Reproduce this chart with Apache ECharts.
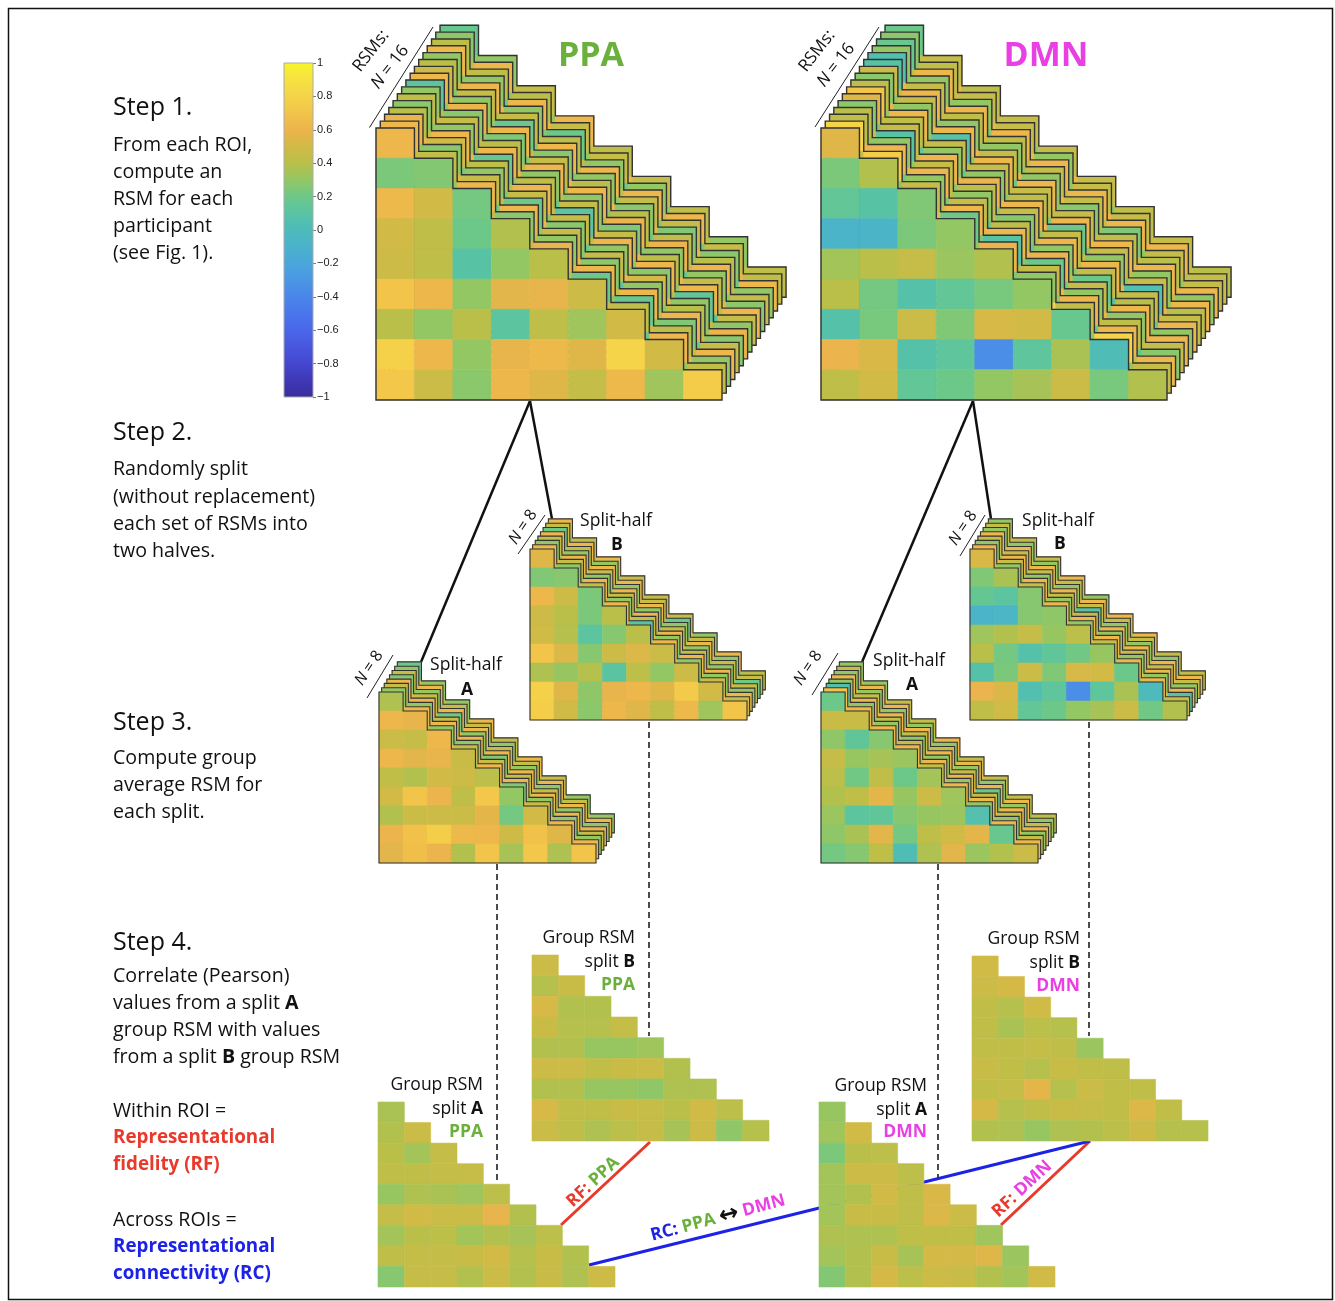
<!DOCTYPE html>
<html>
<head>
<meta charset="utf-8">
<script src="https://cdn.jsdelivr.net/npm/echarts@6/dist/echarts.min.js"></script>
<style>
html, body { margin: 0; background: #fff; }
#chart { width: 1335px; height: 1301px; }
</style>
</head>
<body>
<div id="chart"></div>
<script>
'use strict';
// parula-like colour map, evenly spaced from -1 to 1
var parula = ['#3A2D9C', '#3F38B6', '#4446CF', '#4856DE', '#4A66EA', '#4A76EC', '#4A86EA',
    '#4A96E4', '#4AA6DC', '#4AB2CC', '#4DBBBB', '#58C3A4', '#6CC888', '#93C764', '#BABF49',
    '#D2BA46', '#ECB44C', '#F2C449', '#F5D449', '#F6E240', '#F8F52C'];
var cbMin = -1, cbMax = 1, cbStep = 0.2;
var cellCats = ['1', '2', '3', '4', '5', '6', '7', '8', '9'];

// front RSMs (lower triangle, row by row)
var ppaFront = [
    [0.62],
    [0.24, 0.26],
    [0.63, 0.50, 0.22],
    [0.50, 0.42, 0.20, 0.38],
    [0.48, 0.42, 0.10, 0.30, 0.40],
    [0.70, 0.62, 0.30, 0.56, 0.58, 0.48],
    [0.40, 0.30, 0.40, 0.12, 0.42, 0.33, 0.50],
    [0.78, 0.62, 0.30, 0.58, 0.63, 0.55, 0.80, 0.50],
    [0.72, 0.47, 0.28, 0.62, 0.55, 0.44, 0.63, 0.33, 0.75]
];
var dmnFront = [
    [0.55],
    [0.24, 0.38],
    [0.15, 0.10, 0.25],
    [-0.08, -0.07, 0.24, 0.30],
    [0.34, 0.40, 0.45, 0.32, 0.38],
    [0.40, 0.22, 0.08, 0.15, 0.23, 0.30],
    [0.08, 0.23, 0.47, 0.25, 0.52, 0.50, 0.18],
    [0.60, 0.53, 0.08, 0.13, -0.35, 0.13, 0.36, 0.02],
    [0.42, 0.50, 0.15, 0.20, 0.30, 0.35, 0.47, 0.23, 0.38]
];
var ppaSplitAFront = [
    [0.37],
    [0.62, 0.58],
    [0.47, 0.45, 0.62],
    [0.62, 0.56, 0.58, 0.46],
    [0.43, 0.38, 0.50, 0.48, 0.41],
    [0.50, 0.70, 0.60, 0.42, 0.72, 0.30],
    [0.38, 0.47, 0.48, 0.47, 0.57, 0.22, 0.50],
    [0.60, 0.68, 0.76, 0.63, 0.62, 0.48, 0.69, 0.55],
    [0.56, 0.67, 0.60, 0.38, 0.70, 0.35, 0.72, 0.37, 0.70]
];
var ppaSplitBFront = [
    [0.55],
    [0.25, 0.27],
    [0.62, 0.48, 0.24],
    [0.48, 0.40, 0.24, 0.40],
    [0.49, 0.39, 0.12, 0.27, 0.40],
    [0.70, 0.54, 0.27, 0.48, 0.54, 0.47],
    [0.37, 0.31, 0.39, 0.11, 0.41, 0.30, 0.48],
    [0.78, 0.55, 0.29, 0.58, 0.62, 0.55, 0.74, 0.50],
    [0.76, 0.49, 0.28, 0.62, 0.55, 0.42, 0.63, 0.33, 0.70]
];
var dmnSplitAFront = [
    [0.20],
    [0.46, 0.46],
    [0.29, 0.14, 0.27],
    [0.45, 0.31, 0.35, 0.32],
    [0.41, 0.21, 0.42, 0.20, 0.34],
    [0.38, 0.42, 0.57, 0.31, 0.48, 0.33],
    [0.32, 0.12, 0.14, 0.27, 0.31, 0.32, 0.06],
    [0.29, 0.36, 0.56, 0.22, 0.42, 0.49, 0.57, 0.18],
    [0.22, 0.27, 0.42, 0.03, 0.37, 0.56, 0.32, 0.38, 0.47]
];
var dmnSplitBFront = [
    [0.53],
    [0.25, 0.36],
    [0.16, 0.12, 0.27],
    [-0.08, -0.06, 0.27, 0.29],
    [0.33, 0.38, 0.45, 0.31, 0.41],
    [0.40, 0.22, 0.07, 0.14, 0.21, 0.31],
    [0.08, 0.24, 0.47, 0.25, 0.52, 0.50, 0.19],
    [0.60, 0.53, 0.05, 0.13, -0.35, 0.13, 0.36, 0.00],
    [0.42, 0.49, 0.15, 0.20, 0.30, 0.35, 0.47, 0.21, 0.38]
];

// back RSMs of each stack: only the edge cells show, in the order
// d0, s1, d1, s2, d2 ... s8, d8 (d = diagonal, s = cell left of it)
var ppaBack = [
    [0.62, 0.45, 0.42, 0.30, 0.62, 0.45, 0.28, 0.50, 0.60, 0.35, 0.20, 0.48, 0.42, 0.15, 0.62, 0.30, 0.42],
    [0.60, 0.30, 0.28, 0.50, 0.45, 0.20, 0.62, 0.40, 0.30, 0.55, 0.62, 0.30, 0.18, 0.50, 0.42, 0.62, 0.30],
    [0.40, 0.62, 0.50, 0.25, 0.30, 0.45, 0.20, 0.30, 0.45, 0.60, 0.28, 0.45, 0.62, 0.30, 0.25, 0.45, 0.62],
    [0.28, 0.45, 0.62, 0.40, 0.42, 0.25, 0.45, 0.62, 0.28, 0.30, 0.45, 0.12, 0.30, 0.45, 0.62, 0.20, 0.45],
    [0.42, 0.30, 0.30, 0.62, 0.18, 0.40, 0.62, 0.30, 0.45, 0.20, 0.30, 0.62, 0.50, 0.28, 0.40, 0.50, 0.28],
    [0.30, 0.50, 0.45, 0.28, 0.62, 0.30, 0.42, 0.45, 0.12, 0.42, 0.62, 0.30, 0.28, 0.62, 0.30, 0.30, 0.60],
    [0.12, 0.40, 0.28, 0.45, 0.40, 0.62, 0.30, 0.20, 0.45, 0.60, 0.45, 0.25, 0.62, 0.40, 0.15, 0.42, 0.30],
    [0.62, 0.30, 0.60, 0.30, 0.25, 0.40, 0.62, 0.45, 0.30, 0.28, 0.25, 0.62, 0.40, 0.30, 0.62, 0.10, 0.45],
    [0.48, 0.62, 0.30, 0.50, 0.62, 0.25, 0.45, 0.30, 0.62, 0.45, 0.60, 0.30, 0.30, 0.62, 0.45, 0.40, 0.62],
    [0.40, 0.25, 0.45, 0.30, 0.20, 0.45, 0.28, 0.62, 0.40, 0.30, 0.40, 0.45, 0.60, 0.20, 0.30, 0.60, 0.28],
    [0.30, 0.45, 0.62, 0.40, 0.45, 0.30, 0.62, 0.25, 0.30, 0.62, 0.28, 0.20, 0.42, 0.45, 0.62, 0.30, 0.45],
    [0.63, 0.30, 0.30, 0.62, 0.30, 0.45, 0.40, 0.45, 0.62, 0.30, 0.45, 0.60, 0.25, 0.30, 0.40, 0.45, 0.30],
    [0.40, 0.50, 0.42, 0.20, 0.62, 0.28, 0.20, 0.40, 0.30, 0.45, 0.62, 0.30, 0.45, 0.62, 0.28, 0.20, 0.62],
    [0.28, 0.45, 0.62, 0.30, 0.40, 0.60, 0.45, 0.30, 0.45, 0.20, 0.30, 0.45, 0.62, 0.25, 0.45, 0.60, 0.42],
    [0.18, 0.30, 0.30, 0.45, 0.45, 0.30, 0.62, 0.45, 0.42, 0.62, 0.45, 0.30, 0.42, 0.45, 0.30, 0.40, 0.42]
];
var dmnBack = [
    [0.80, 0.45, 0.75, 0.30, 0.45, 0.62, 0.20, 0.30, 0.60, 0.25, 0.30, 0.75, 0.45, 0.30, 0.80, 0.28, 0.45],
    [0.42, 0.60, 0.62, 0.20, 0.30, 0.45, 0.62, 0.25, 0.10, 0.40, 0.45, 0.30, 0.62, 0.20, 0.62, 0.45, 0.62],
    [0.40, 0.30, 0.30, 0.62, 0.62, 0.25, 0.45, 0.60, 0.62, 0.30, 0.20, 0.62, 0.30, 0.45, 0.42, 0.15, 0.28],
    [0.28, 0.45, 0.10, 0.30, 0.45, 0.42, 0.30, 0.20, 0.42, 0.62, 0.60, 0.25, 0.45, 0.60, 0.30, 0.45, 0.45],
    [0.55, 0.25, 0.45, 0.45, 0.62, 0.30, 0.42, 0.45, 0.28, 0.20, 0.30, 0.45, 0.20, 0.30, 0.62, 0.60, 0.62],
    [0.70, 0.45, 0.42, 0.15, 0.30, 0.62, 0.60, 0.30, 0.45, 0.45, 0.62, 0.30, 0.45, 0.10, 0.40, 0.30, 0.30],
    [0.42, 0.30, 0.62, 0.45, 0.45, 0.20, 0.30, 0.62, 0.62, 0.30, 0.45, 0.40, 0.62, 0.45, 0.45, 0.20, 0.62],
    [0.28, 0.60, 0.30, 0.30, 0.10, 0.45, 0.45, 0.30, 0.42, 0.62, 0.20, 0.45, 0.30, 0.62, 0.05, 0.45, 0.45],
    [0.48, 0.30, 0.45, 0.62, 0.62, 0.30, 0.62, 0.45, 0.45, 0.25, 0.62, 0.30, 0.45, 0.30, 0.45, 0.62, 0.40],
    [0.10, 0.45, 0.62, 0.30, 0.30, 0.62, 0.45, 0.20, 0.62, 0.45, 0.45, 0.62, 0.62, 0.45, 0.30, 0.30, 0.62],
    [0.05, 0.62, 0.45, 0.45, 0.42, 0.30, 0.30, 0.62, 0.30, 0.30, 0.28, 0.45, 0.42, 0.62, 0.62, 0.45, 0.30],
    [0.30, 0.30, 0.30, 0.62, 0.62, 0.45, 0.42, 0.30, 0.45, 0.62, 0.45, 0.30, 0.25, 0.45, 0.40, 0.62, 0.62],
    [0.18, 0.45, 0.62, 0.30, 0.30, 0.25, 0.62, 0.45, 0.62, 0.45, 0.62, 0.45, 0.62, 0.30, 0.45, 0.30, 0.45],
    [0.28, 0.30, 0.42, 0.45, 0.45, 0.62, 0.45, 0.62, 0.30, 0.30, 0.45, 0.62, 0.45, 0.62, 0.62, 0.45, 0.45],
    [0.20, 0.45, 0.45, 0.62, 0.42, 0.45, 0.45, 0.30, 0.45, 0.62, 0.45, 0.30, 0.42, 0.45, 0.45, 0.45, 0.40]
];
var ppaSplitABack = [
    [0.30, 0.60, 0.62, 0.45, 0.30, 0.62, 0.45, 0.30, 0.62, 0.45, 0.25, 0.62, 0.45, 0.30, 0.62, 0.45, 0.62],
    [0.45, 0.30, 0.30, 0.62, 0.62, 0.20, 0.30, 0.62, 0.45, 0.62, 0.62, 0.45, 0.30, 0.62, 0.30, 0.45, 0.30],
    [0.62, 0.45, 0.62, 0.30, 0.45, 0.45, 0.62, 0.45, 0.25, 0.45, 0.45, 0.30, 0.62, 0.30, 0.62, 0.20, 0.45],
    [0.25, 0.62, 0.45, 0.45, 0.20, 0.62, 0.30, 0.30, 0.62, 0.30, 0.62, 0.62, 0.45, 0.45, 0.30, 0.62, 0.60],
    [0.45, 0.30, 0.30, 0.62, 0.62, 0.30, 0.62, 0.62, 0.45, 0.45, 0.30, 0.45, 0.30, 0.62, 0.62, 0.30, 0.30],
    [0.30, 0.45, 0.62, 0.30, 0.45, 0.45, 0.45, 0.30, 0.30, 0.62, 0.45, 0.30, 0.62, 0.30, 0.45, 0.45, 0.62],
    [0.20, 0.62, 0.30, 0.45, 0.30, 0.30, 0.62, 0.45, 0.45, 0.30, 0.62, 0.45, 0.45, 0.62, 0.30, 0.62, 0.30]
];
var ppaSplitBBack = [
    [0.62, 0.45, 0.30, 0.62, 0.45, 0.30, 0.62, 0.45, 0.10, 0.30, 0.62, 0.45, 0.30, 0.20, 0.45, 0.62, 0.45],
    [0.30, 0.62, 0.45, 0.30, 0.62, 0.45, 0.30, 0.62, 0.45, 0.62, 0.30, 0.20, 0.62, 0.45, 0.30, 0.45, 0.62],
    [0.45, 0.30, 0.62, 0.45, 0.30, 0.62, 0.45, 0.30, 0.62, 0.45, 0.62, 0.30, 0.45, 0.62, 0.62, 0.30, 0.30],
    [0.62, 0.45, 0.30, 0.62, 0.45, 0.20, 0.62, 0.45, 0.30, 0.10, 0.45, 0.62, 0.30, 0.45, 0.30, 0.62, 0.45],
    [0.20, 0.30, 0.45, 0.62, 0.62, 0.30, 0.30, 0.45, 0.62, 0.30, 0.30, 0.45, 0.62, 0.30, 0.45, 0.30, 0.20],
    [0.45, 0.62, 0.62, 0.30, 0.30, 0.45, 0.62, 0.62, 0.45, 0.45, 0.20, 0.30, 0.45, 0.62, 0.30, 0.45, 0.45],
    [0.62, 0.30, 0.45, 0.45, 0.62, 0.30, 0.45, 0.30, 0.45, 0.62, 0.45, 0.62, 0.30, 0.45, 0.62, 0.30, 0.40]
];
var dmnSplitABack = [
    [0.70, 0.62, 0.62, 0.45, 0.62, 0.30, 0.62, 0.62, 0.45, 0.30, 0.62, 0.45, 0.30, 0.20, 0.62, 0.62, 0.62],
    [0.05, 0.30, 0.30, 0.62, 0.30, 0.45, 0.45, 0.30, 0.62, 0.62, 0.30, 0.62, 0.62, 0.45, 0.30, 0.20, 0.45],
    [0.30, 0.45, 0.62, 0.30, 0.45, 0.62, 0.30, 0.45, 0.30, 0.45, 0.62, 0.30, 0.45, 0.62, 0.45, 0.62, 0.30],
    [0.62, 0.30, 0.45, 0.62, 0.62, 0.30, 0.45, 0.62, 0.62, 0.30, 0.45, 0.62, 0.20, 0.30, 0.62, 0.45, 0.62],
    [0.30, 0.62, 0.30, 0.45, 0.30, 0.62, 0.62, 0.30, 0.45, 0.62, 0.30, 0.45, 0.62, 0.62, 0.30, 0.30, 0.45],
    [0.45, 0.30, 0.62, 0.30, 0.62, 0.45, 0.30, 0.45, 0.30, 0.45, 0.62, 0.30, 0.30, 0.45, 0.62, 0.62, 0.30],
    [0.30, 0.45, 0.30, 0.62, 0.45, 0.30, 0.45, 0.30, 0.62, 0.30, 0.45, 0.62, 0.45, 0.30, 0.45, 0.30, 0.42]
];
var dmnSplitBBack = [
    [0.62, 0.45, 0.30, 0.62, 0.45, 0.30, 0.62, 0.45, 0.30, 0.62, 0.45, 0.30, 0.62, 0.30, 0.62, 0.30, 0.45],
    [0.30, 0.62, 0.45, 0.30, 0.62, 0.45, 0.30, 0.30, 0.62, 0.45, 0.62, 0.45, 0.30, 0.62, 0.30, 0.62, 0.10],
    [0.45, 0.30, 0.62, 0.45, 0.30, 0.62, 0.45, 0.62, 0.45, 0.62, 0.30, 0.62, 0.45, 0.45, 0.62, 0.45, 0.62],
    [0.62, 0.62, 0.45, 0.30, 0.45, 0.30, 0.62, 0.30, 0.10, 0.30, 0.62, 0.30, 0.62, 0.62, 0.45, 0.30, 0.30],
    [0.30, 0.45, 0.62, 0.62, 0.62, 0.45, 0.30, 0.45, 0.45, 0.45, 0.30, 0.45, 0.30, 0.30, 0.62, 0.62, 0.45],
    [0.45, 0.30, 0.30, 0.45, 0.30, 0.62, 0.45, 0.62, 0.62, 0.30, 0.45, 0.62, 0.45, 0.62, 0.30, 0.45, 0.62],
    [0.30, 0.62, 0.45, 0.30, 0.45, 0.45, 0.62, 0.30, 0.30, 0.62, 0.62, 0.30, 0.62, 0.45, 0.45, 0.30, 0.42]
];

// group average RSMs
var groupPpaA = [
    [0.36],
    [0.38, 0.47],
    [0.40, 0.34, 0.44],
    [0.42, 0.42, 0.44, 0.45],
    [0.31, 0.37, 0.36, 0.33, 0.41],
    [0.44, 0.50, 0.47, 0.47, 0.58, 0.38],
    [0.34, 0.40, 0.41, 0.34, 0.38, 0.35, 0.41],
    [0.42, 0.44, 0.44, 0.46, 0.50, 0.39, 0.46, 0.38],
    [0.27, 0.45, 0.45, 0.38, 0.47, 0.38, 0.46, 0.37, 0.48]
];
var groupPpaB = [
    [0.47],
    [0.39, 0.46],
    [0.52, 0.38, 0.38],
    [0.46, 0.39, 0.39, 0.44],
    [0.38, 0.38, 0.31, 0.31, 0.33],
    [0.48, 0.48, 0.43, 0.46, 0.47, 0.38],
    [0.38, 0.38, 0.31, 0.31, 0.29, 0.37, 0.37],
    [0.52, 0.43, 0.43, 0.46, 0.45, 0.40, 0.49, 0.41],
    [0.47, 0.42, 0.37, 0.41, 0.45, 0.35, 0.48, 0.29, 0.39]
];
var groupDmnA = [
    [0.31],
    [0.33, 0.50],
    [0.24, 0.40, 0.41],
    [0.34, 0.48, 0.48, 0.41],
    [0.34, 0.38, 0.50, 0.42, 0.53],
    [0.34, 0.46, 0.46, 0.42, 0.54, 0.47],
    [0.37, 0.37, 0.37, 0.42, 0.43, 0.43, 0.33],
    [0.34, 0.38, 0.46, 0.35, 0.51, 0.51, 0.55, 0.32],
    [0.26, 0.38, 0.51, 0.41, 0.48, 0.46, 0.38, 0.34, 0.49]
];
var groupDmnB = [
    [0.49],
    [0.47, 0.51],
    [0.43, 0.39, 0.49],
    [0.42, 0.36, 0.41, 0.39],
    [0.43, 0.43, 0.44, 0.42, 0.32],
    [0.46, 0.43, 0.39, 0.46, 0.43, 0.42],
    [0.43, 0.44, 0.57, 0.39, 0.47, 0.43, 0.42],
    [0.51, 0.39, 0.42, 0.46, 0.45, 0.43, 0.54, 0.43],
    [0.38, 0.37, 0.31, 0.37, 0.38, 0.41, 0.48, 0.39, 0.39]
];

var FONT = '"Open Sans", sans-serif';
var GREEN = '#6BAF3C', MAGENTA = '#E940E3', RED = '#E8392A', BLUE = '#1C22E6';

// box = front matrix [left, top, width, height], dx/dy = shift of each layer behind
var stacks = [
    { front: ppaFront, back: ppaBack, box: [376, 128, 346, 272], dx: 4.27, dy: 6.85, line: 1.4 },
    { front: dmnFront, back: dmnBack, box: [821, 128, 346, 272], dx: 4.27, dy: 6.85, line: 1.4 },
    { front: ppaSplitAFront, back: ppaSplitABack, box: [379, 692, 217, 171], dx: 2.62, dy: 4.3, line: 1.1 },
    { front: ppaSplitBFront, back: ppaSplitBBack, box: [530, 549, 217, 171], dx: 2.62, dy: 4.3, line: 1.1 },
    { front: dmnSplitAFront, back: dmnSplitABack, box: [821, 692, 217, 171], dx: 2.62, dy: 4.3, line: 1.1 },
    { front: dmnSplitBFront, back: dmnSplitBBack, box: [970, 549, 217, 171], dx: 2.62, dy: 4.3, line: 1.1 },
    { front: groupPpaA, back: [], box: [378, 1102, 237, 185], dx: 0, dy: 0, line: 0 },
    { front: groupPpaB, back: [], box: [532, 955, 237, 186], dx: 0, dy: 0, line: 0 },
    { front: groupDmnA, back: [], box: [819, 1102, 236, 185], dx: 0, dy: 0, line: 0 },
    { front: groupDmnB, back: [], box: [972, 956, 236, 185], dx: 0, dy: 0, line: 0 }
];

var chart = echarts.init(document.getElementById('chart'));

var grids = [], xAxes = [], yAxes = [], series = [], cellSeries = [];

function cellRender(st, nLayers) {
    return function (params, api) {
        var layer = api.value(3);
        var p = api.coord([api.value(0), api.value(1)]);
        var s = api.size([1, 1]);
        var color = api.visual('color');
        return {
            type: 'rect',
            shape: {
                x: p[0] - s[0] / 2 + layer * st.dx,
                y: p[1] - s[1] / 2 - layer * st.dy,
                width: s[0],
                height: s[1]
            },
            style: { fill: color, stroke: color, lineWidth: 0.6 },
            z2: (nLayers - layer) * 2
        };
    };
}

function outlineRender(st, nLayers) {
    return function (params, api) {
        var layer = api.value(2);
        var n = st.front.length;
        var p = api.coord([0, 0]);
        var s = api.size([1, 1]);
        var x0 = p[0] - s[0] / 2 + layer * st.dx;
        var y0 = p[1] - s[1] / 2 - layer * st.dy;
        var pts = [[x0, y0]];
        for (var i = 0; i < n; i++) {
            pts.push([x0 + (i + 1) * s[0], y0 + i * s[1]]);
            pts.push([x0 + (i + 1) * s[0], y0 + (i + 1) * s[1]]);
        }
        pts.push([x0, y0 + n * s[1]]);
        return {
            type: 'polygon',
            shape: { points: pts },
            style: { fill: null, stroke: '#333', lineWidth: st.line, lineJoin: 'miter' },
            z2: (nLayers - layer) * 2 + 1
        };
    };
}

stacks.forEach(function (st, i) {
    grids.push({ left: st.box[0], top: st.box[1], width: st.box[2], height: st.box[3] });
    xAxes.push({ type: 'category', gridIndex: i, data: cellCats, show: false });
    yAxes.push({ type: 'category', gridIndex: i, data: cellCats, inverse: true, show: false });
    var nLayers = st.back.length + 1;
    var cells = [];
    st.front.forEach(function (row, r) {
        row.forEach(function (v, c) {
            cells.push([c, r, v, 0]);
        });
    });
    st.back.forEach(function (edge, k) {
        edge.forEach(function (v, j) {
            var r = Math.floor((j + 1) / 2);
            cells.push([r - (j % 2), r, v, k + 1]);
        });
    });
    cellSeries.push(series.length);
    series.push({
        type: 'custom',
        xAxisIndex: i,
        yAxisIndex: i,
        silent: true,
        data: cells,
        renderItem: cellRender(st, nLayers)
    });
    if (st.line) {
        var outlines = [];
        for (var k = 0; k < nLayers; k++) {
            outlines.push([0, 0, k]);
        }
        series.push({
            type: 'custom',
            xAxisIndex: i,
            yAxisIndex: i,
            silent: true,
            data: outlines,
            renderItem: outlineRender(st, nLayers)
        });
    }
});

// colour bar
var cbIndex = grids.length;
grids.push({ left: 284, top: 63, width: 29, height: 334 });
xAxes.push({ type: 'category', gridIndex: cbIndex, data: [''], show: false });
yAxes.push({
    type: 'value',
    gridIndex: cbIndex,
    position: 'right',
    min: cbMin,
    max: cbMax,
    interval: cbStep,
    axisLine: { show: false },
    splitLine: { show: false },
    axisTick: { show: true, length: 3, lineStyle: { color: '#777', width: 1 } },
    axisLabel: {
        margin: 4,
        fontSize: 11,
        fontFamily: '"Liberation Sans", Arial, sans-serif',
        color: '#222',
        formatter: function (v) {
            var a = Math.abs(Math.round(v * 10) / 10);
            return (v < -0.001 ? '\u2212' : '') + a;
        }
    }
});
series.push({
    type: 'custom',
    xAxisIndex: cbIndex,
    yAxisIndex: cbIndex,
    silent: true,
    data: [[0, cbMax]],
    renderItem: function (params, api) {
        var top = api.coord([0, cbMax]);
        var bottom = api.coord([0, cbMin]);
        var w = api.size([1, 0])[0];
        var stops = parula.map(function (c, j) {
            return { offset: j / (parula.length - 1), color: c };
        });
        return {
            type: 'rect',
            shape: { x: top[0] - w / 2, y: top[1], width: w, height: bottom[1] - top[1] },
            style: {
                fill: new echarts.graphic.LinearGradient(0, 1, 0, 0, stops),
                stroke: '#aaa',
                lineWidth: 1
            }
        };
    }
});

// ---- text and connector helpers ----
function txt(x, y, text, size, opt) {
    opt = opt || {};
    return {
        type: 'text',
        x: x,
        y: y,
        rotation: (opt.rot || 0) * Math.PI / 180,
        silent: true,
        style: {
            text: text,
            fill: opt.color || '#111',
            fontSize: size,
            fontFamily: opt.family || FONT,
            fontWeight: opt.bold ? 'bold' : 'normal',
            fontStyle: opt.italic ? 'italic' : 'normal',
            align: opt.align || 'left',
            verticalAlign: 'middle',
            rich: opt.rich
        }
    };
}
function seg(x1, y1, x2, y2, color, width, dash) {
    return {
        type: 'line',
        silent: true,
        shape: { x1: x1, y1: y1, x2: x2, y2: y2 },
        style: { stroke: color, lineWidth: width, lineDash: dash || null }
    };
}

var LX = 113, BODY = 19.6, BOLD = 18.8, HEAD = 25;
var boldRich = { b: { fontWeight: 'bold', fontSize: BODY, fontFamily: FONT, fill: '#111' } };
var nRich = { i: { fontStyle: 'italic', fontSize: 17, fontFamily: FONT, fill: '#111' } };
var nRichS = { i: { fontStyle: 'italic', fontSize: 16, fontFamily: FONT, fill: '#111' } };
function colRich(size) {
    return {
        r: { fill: RED, fontWeight: 'bold', fontSize: size, fontFamily: FONT },
        u: { fill: BLUE, fontWeight: 'bold', fontSize: size, fontFamily: FONT },
        g: { fill: GREEN, fontWeight: 'bold', fontSize: size, fontFamily: FONT },
        m: { fill: MAGENTA, fontWeight: 'bold', fontSize: size, fontFamily: FONT },
        k: { fill: '#111', fontWeight: 'bold', fontSize: size + 6, fontFamily: '"DejaVu Sans", sans-serif' },
        b: { fill: '#111', fontWeight: 'bold', fontSize: 17.5, fontFamily: FONT }
    };
}

var elements = [
    { type: 'rect', silent: true, shape: { x: 8.5, y: 8.5, width: 1324, height: 1291 },
      style: { fill: null, stroke: '#111', lineWidth: 1.5 } },

    txt(LX, 108, 'Step 1.', HEAD),
    txt(LX, 145, 'From each ROI,', BODY),
    txt(LX, 172, 'compute an', BODY),
    txt(LX, 199, 'RSM for each', BODY),
    txt(LX, 226, 'participant', BODY),
    txt(LX, 253, '(see Fig. 1).', BODY),

    txt(LX, 433, 'Step 2.', HEAD),
    txt(LX, 469, 'Randomly split', BODY),
    txt(LX, 497, '(without replacement)', BODY),
    txt(LX, 524, 'each set of RSMs into', BODY),
    txt(LX, 551, 'two halves.', BODY),

    txt(LX, 723, 'Step 3.', HEAD),
    txt(LX, 758, 'Compute group', BODY),
    txt(LX, 785, 'average RSM for', BODY),
    txt(LX, 812, 'each split.', BODY),

    txt(LX, 943, 'Step 4.', HEAD),
    txt(LX, 976, 'Correlate (Pearson)', BODY),
    txt(LX, 1003, 'values from a split {b|A}', BODY, { rich: boldRich }),
    txt(LX, 1030, 'group RSM with values', BODY),
    txt(LX, 1057, 'from a split {b|B} group RSM', BODY, { rich: boldRich }),
    txt(LX, 1111, 'Within ROI =', BODY),
    txt(LX, 1138, 'Representational', BOLD, { bold: true, color: RED }),
    txt(LX, 1165, 'fidelity (RF)', BOLD, { bold: true, color: RED }),
    txt(LX, 1220, 'Across ROIs =', BODY),
    txt(LX, 1247, 'Representational', BOLD, { bold: true, color: BLUE }),
    txt(LX, 1274, 'connectivity (RC)', BOLD, { bold: true, color: BLUE }),

    txt(591, 56, 'PPA', 34, { bold: true, color: GREEN, align: 'center' }),
    txt(1046, 56, 'DMN', 34, { bold: true, color: MAGENTA, align: 'center' }),

    // stack size labels
    seg(369.5, 127.5, 433, 27, '#222', 1),
    seg(815, 127, 879, 27, '#222', 1),
    seg(367, 698, 393, 655, '#222', 1),
    seg(518, 554, 545, 515, '#222', 1),
    seg(812, 695, 838, 653, '#222', 1),
    seg(960, 556, 985, 515, '#222', 1),
    txt(371, 51, 'RSMs:', 17, { rot: 52, align: 'center' }),
    txt(390, 67, '{i|N} = 16', 17, { rot: 52, align: 'center', rich: nRich }),
    txt(817, 51, 'RSMs:', 17, { rot: 52, align: 'center' }),
    txt(836, 65, '{i|N} = 16', 17, { rot: 52, align: 'center', rich: nRich }),
    txt(369, 668, '{i|N} = 8', 16, { rot: 56, align: 'center', rich: nRichS }),
    txt(523, 527, '{i|N} = 8', 16, { rot: 56, align: 'center', rich: nRichS }),
    txt(808, 668, '{i|N} = 8', 16, { rot: 56, align: 'center', rich: nRichS }),
    txt(963, 528, '{i|N} = 8', 16, { rot: 56, align: 'center', rich: nRichS }),

    txt(466, 665, 'Split-half', 17.5, { align: 'center' }),
    txt(467, 690, 'A', 17.5, { align: 'center', bold: true }),
    txt(616, 521, 'Split-half', 17.5, { align: 'center' }),
    txt(617, 545, 'B', 17.5, { align: 'center', bold: true }),
    txt(909, 661, 'Split-half', 17.5, { align: 'center' }),
    txt(912, 685, 'A', 17.5, { align: 'center', bold: true }),
    txt(1058, 521, 'Split-half', 17.5, { align: 'center' }),
    txt(1060, 544, 'B', 17.5, { align: 'center', bold: true }),

    txt(483, 1085, 'Group RSM', 17.5, { align: 'right' }),
    txt(483, 1109, 'split {b|A}', 17.5, { align: 'right', rich: colRich(17.5) }),
    txt(483, 1132, 'PPA', 17.5, { align: 'right', bold: true, color: GREEN }),
    txt(635, 938, 'Group RSM', 17.5, { align: 'right' }),
    txt(635, 962, 'split {b|B}', 17.5, { align: 'right', rich: colRich(17.5) }),
    txt(635, 985, 'PPA', 17.5, { align: 'right', bold: true, color: GREEN }),
    txt(927, 1086, 'Group RSM', 17.5, { align: 'right' }),
    txt(927, 1110, 'split {b|A}', 17.5, { align: 'right', rich: colRich(17.5) }),
    txt(927, 1132, 'DMN', 17.5, { align: 'right', bold: true, color: MAGENTA }),
    txt(1080, 939, 'Group RSM', 17.5, { align: 'right' }),
    txt(1080, 963, 'split {b|B}', 17.5, { align: 'right', rich: colRich(17.5) }),
    txt(1080, 986, 'DMN', 17.5, { align: 'right', bold: true, color: MAGENTA }),

    // split lines from the full sets to the halves
    seg(530, 401, 421, 662, '#111', 2.5),
    seg(530, 401, 552, 519, '#111', 2.5),
    seg(973, 401, 862, 662, '#111', 2.5),
    seg(973, 401, 991, 519, '#111', 2.5),
    // dashed links from split stacks to group RSMs
    seg(497, 864, 497, 1184, '#111', 1.5, [6, 4]),
    seg(649, 722, 649, 1036, '#111', 1.5, [6, 4]),
    seg(938, 864, 938, 1184, '#111', 1.5, [6, 4]),
    seg(1089, 722, 1089, 1036, '#111', 1.5, [6, 4]),
    // correlations
    seg(561, 1225, 650, 1142, RED, 3),
    seg(1001, 1225, 1090, 1141, RED, 3),
    seg(589, 1265, 1090, 1141, BLUE, 3),
    txt(593, 1182, '{r|RF:} {g|PPA}', 17.5, { align: 'center', rot: 43, rich: colRich(17.5) }),
    txt(1022, 1189, '{r|RF:} {m|DMN}', 17.5, { align: 'center', rot: 43, rich: colRich(17.5) }),
    txt(718, 1218, '{u|RC:} {g|PPA} {k|\u2194} {m|DMN}', 17.5, { align: 'center', rot: 15, rich: colRich(17.5) })
];

chart.setOption({
    animation: false,
    backgroundColor: '#fff',
    grid: grids,
    xAxis: xAxes,
    yAxis: yAxes,
    visualMap: {
        type: 'continuous',
        show: false,
        min: cbMin,
        max: cbMax,
        dimension: 2,
        seriesIndex: cellSeries,
        inRange: { color: parula }
    },
    graphic: { elements: elements },
    series: series
});
</script>
</body>
</html>
